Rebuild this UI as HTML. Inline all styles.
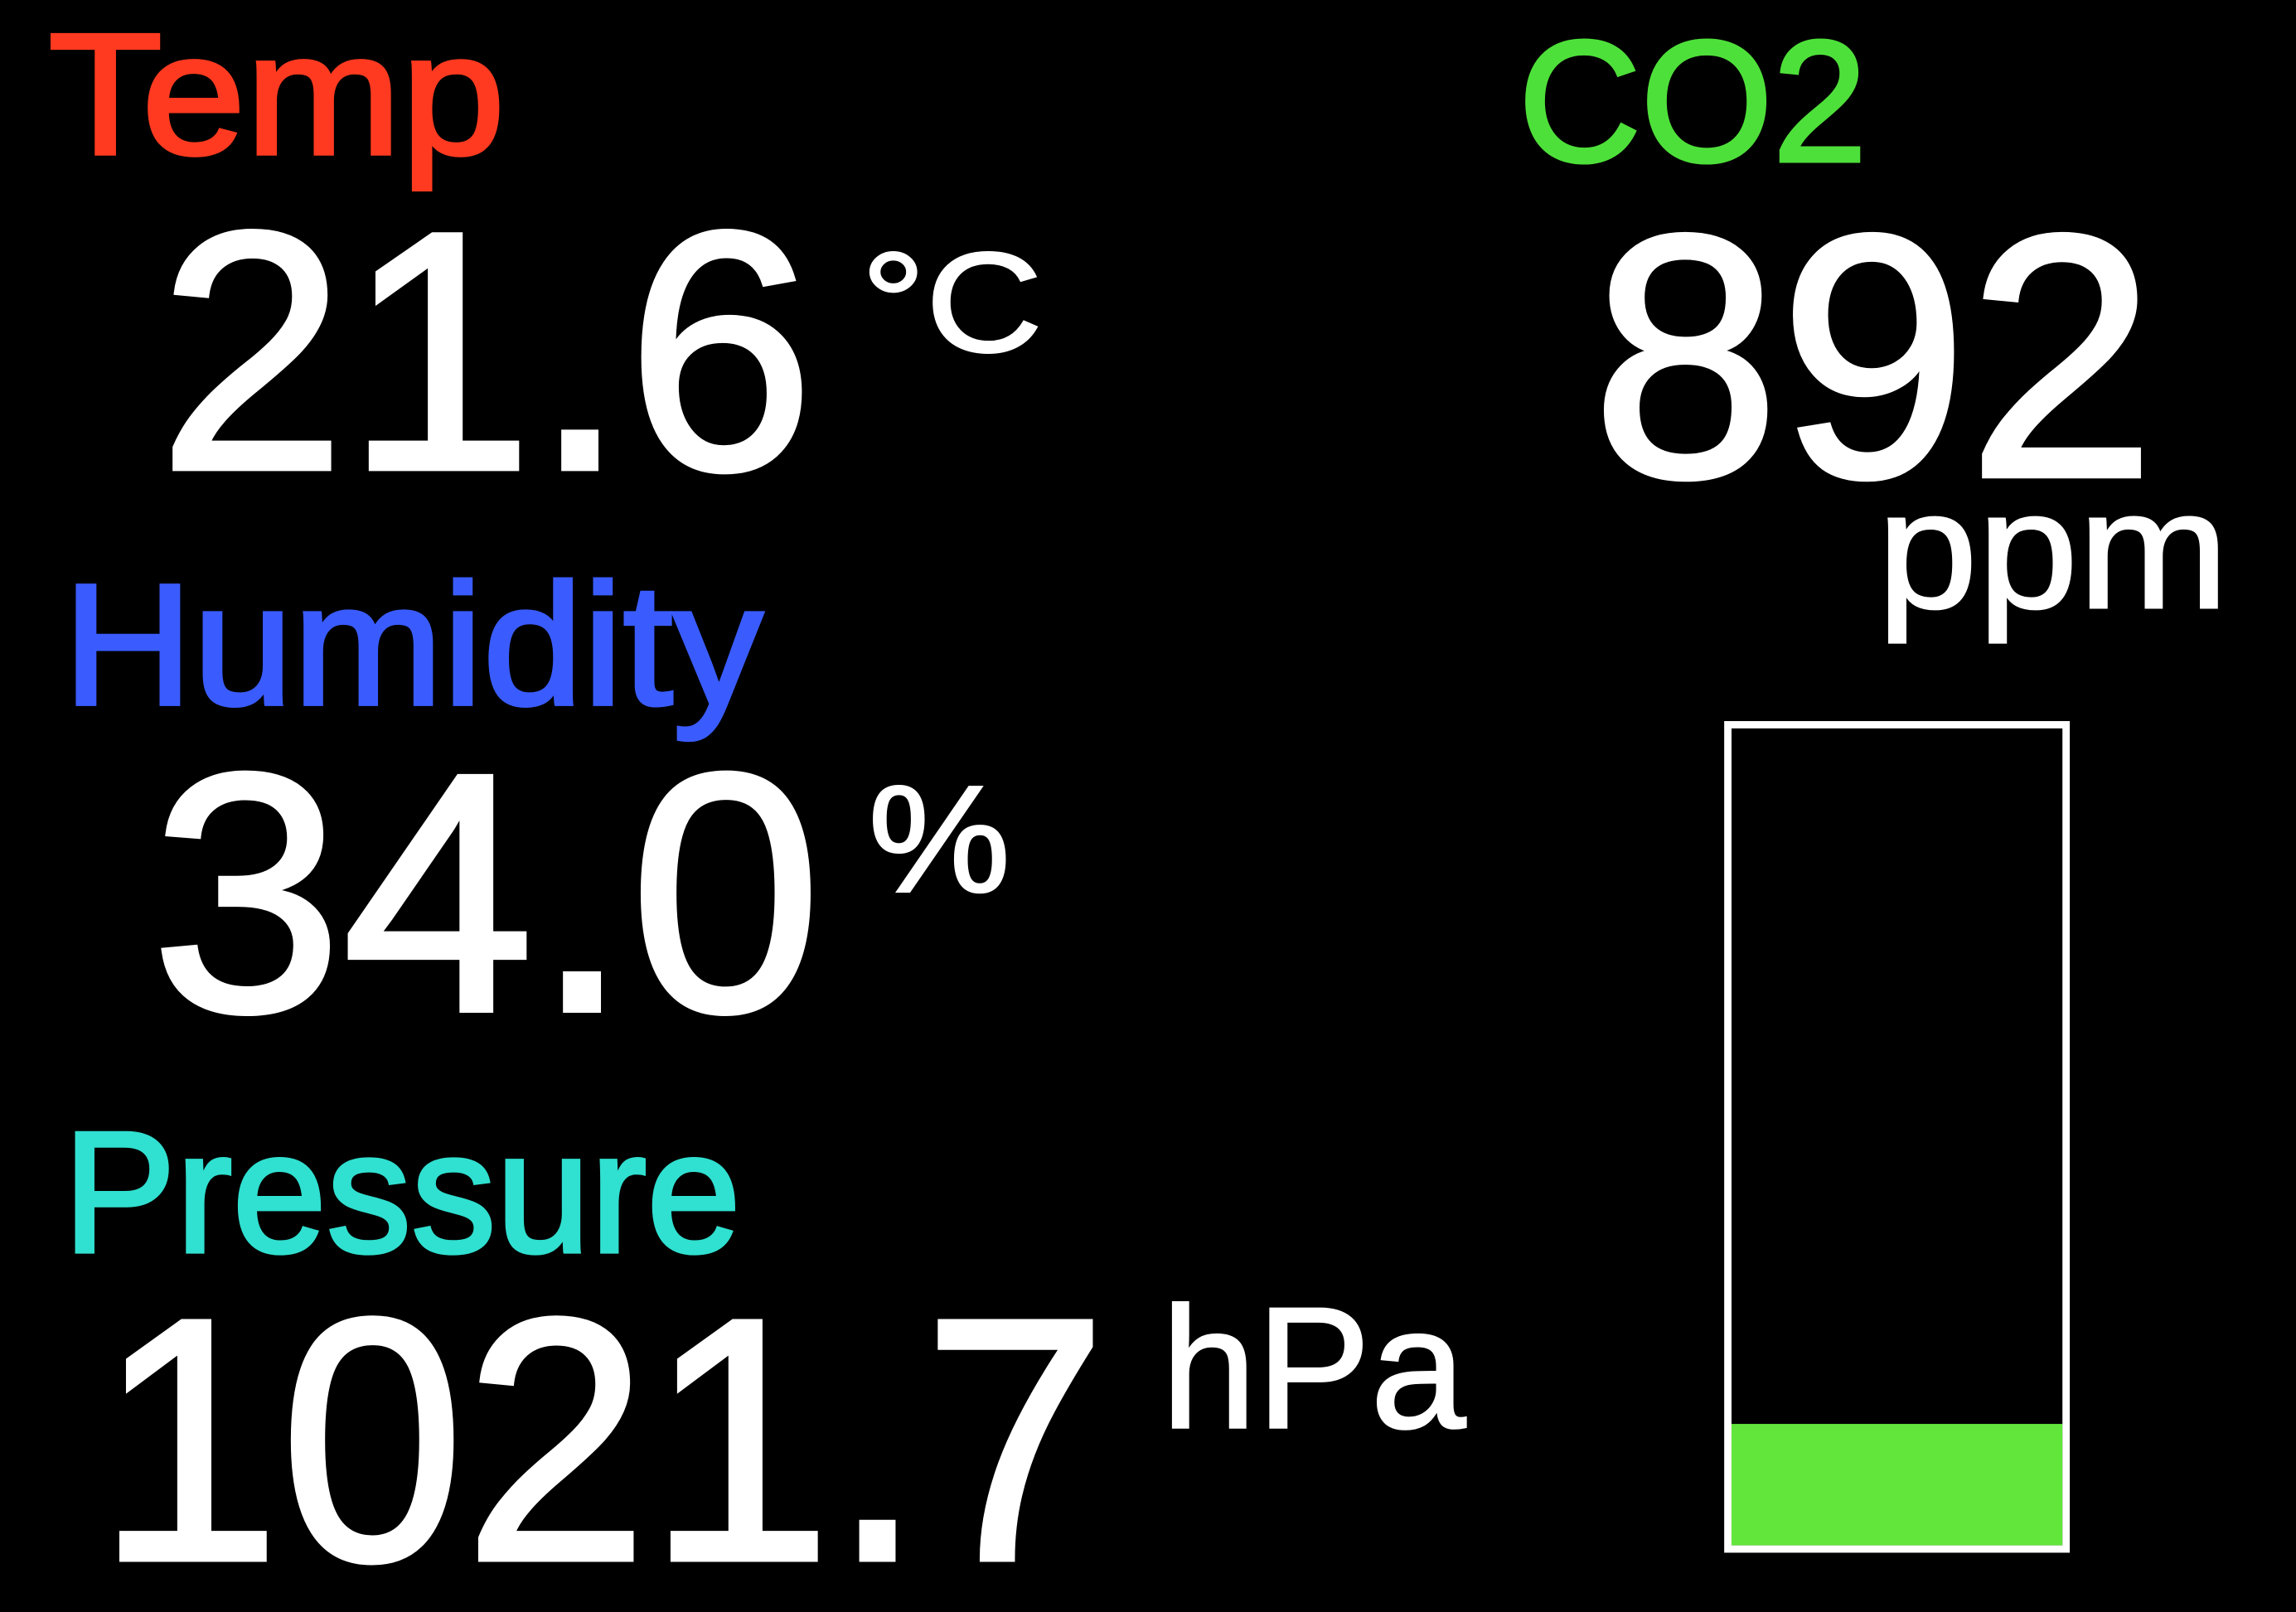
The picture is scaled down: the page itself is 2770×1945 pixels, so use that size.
<!DOCTYPE html>
<html><head><meta charset="utf-8"><style>
html,body{margin:0;padding:0;background:#000;}
svg{display:block}
text{font-family:"Liberation Sans",sans-serif;}
.lab{stroke-width:2.5px;}
.val{stroke-width:3.5px;stroke:#fff;}
.unit{stroke-width:1.5px;stroke:#fff;}
</style></head><body>
<svg id="scr" width="2770" height="1945" viewBox="0 0 1568 1101" xmlns="http://www.w3.org/2000/svg">
<rect x="0" y="0" width="1568" height="1101" fill="#000"/>
<text class="lab" stroke="#ff3a20" x="33" y="105" font-size="118" fill="#ff3a20" textLength="312" lengthAdjust="spacingAndGlyphs">Temp</text>
<text class="val" x="108" y="320" font-size="232" fill="#fff" textLength="448" lengthAdjust="spacingAndGlyphs">21.6</text>
<text class="unit" x="588" y="240" font-size="97" fill="#fff" textLength="124" lengthAdjust="spacingAndGlyphs">°C</text>
<text class="lab" stroke="#3a5cff" x="43" y="481" font-size="118" fill="#3a5cff" textLength="478" lengthAdjust="spacingAndGlyphs">Humidity</text>
<text class="val" x="103" y="690" font-size="232" fill="#fff" textLength="458" lengthAdjust="spacingAndGlyphs">34.0</text>
<text class="unit" x="593" y="609" font-size="104" fill="#fff" textLength="97" lengthAdjust="spacingAndGlyphs">%</text>
<text class="lab" stroke="#30e0d0" x="43" y="855" font-size="118" fill="#30e0d0" textLength="463" lengthAdjust="spacingAndGlyphs">Pressure</text>
<text class="val" x="66" y="1065" font-size="236" fill="#fff" textLength="690" lengthAdjust="spacingAndGlyphs">1021.7</text>
<text class="unit" x="793" y="975" font-size="118" fill="#fff" textLength="208" lengthAdjust="spacingAndGlyphs">hPa</text>
<text class="lab" stroke="#4ee03a" x="1037" y="110" font-size="118" fill="#4ee03a" textLength="238" lengthAdjust="spacingAndGlyphs">CO2</text>
<text class="val" x="1087" y="325" font-size="236" fill="#fff" textLength="385" lengthAdjust="spacingAndGlyphs">892</text>
<text class="unit" x="1282" y="415" font-size="115" fill="#fff" textLength="240" lengthAdjust="spacingAndGlyphs">ppm</text>
<g id="gauge"></g>
</svg>
<script>
const co2Value = [892];
const co2Range = [0, 6000];
const NS = "http://www.w3.org/2000/svg";
const g = document.getElementById('gauge');
const bx = 1180, by = 495, bw = 231, bh = 563, sw = 5;
const innerTop = by + sw / 2, innerBot = by + bh - sw / 2;
function yScale(v) { return innerBot - (v - co2Range[0]) / (co2Range[1] - co2Range[0]) * (innerBot - innerTop); }
const fill = document.createElementNS(NS, 'rect');


const yTop = yScale(co2Value[0]);
fill.setAttribute('x', bx + sw / 2);
fill.setAttribute('y', yTop);
fill.setAttribute('width', bw - sw);
fill.setAttribute('height', innerBot - yTop);
fill.setAttribute('fill', '#62e63c');
g.appendChild(fill);
const frame = document.createElementNS(NS, 'rect');


frame.setAttribute('x', bx);
frame.setAttribute('y', by);
frame.setAttribute('width', bw);
frame.setAttribute('height', bh);
frame.setAttribute('fill', 'none');
frame.setAttribute('stroke', '#fff');
frame.setAttribute('stroke-width', sw);
g.appendChild(frame);
</script>
</body></html>
